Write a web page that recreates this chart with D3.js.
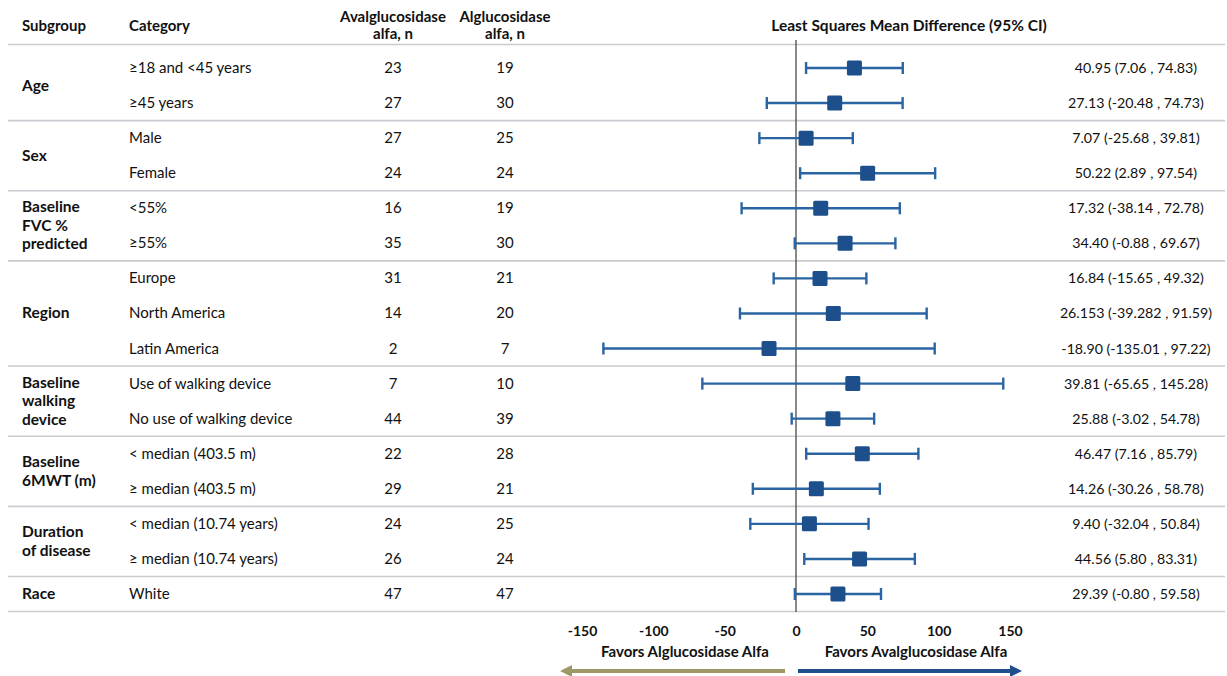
<!DOCTYPE html>
<html>
<head>
<meta charset="utf-8">
<script src="https://cdn.jsdelivr.net/npm/d3@7"></script>
<style>
  html, body { margin: 0; padding: 0; background: #fff; }
  svg { display: block; font-family: Lato, "Open Sans", sans-serif; }
</style>
</head>
<body>
<svg id="chart" width="1227" height="676"></svg>
<script>
// Subgroup analysis: least squares mean difference with 95% CI
const groups = [
  { name: ["Age"], rows: 2 },
  { name: ["Sex"], rows: 2 },
  { name: ["Baseline", "FVC %", "predicted"], rows: 2 },
  { name: ["Region"], rows: 3 },
  { name: ["Baseline", "walking", "device"], rows: 2 },
  { name: ["Baseline", "6MWT (m)"], rows: 2 },
  { name: ["Duration", "of disease"], rows: 2 },
  { name: ["Race"], rows: 1 }
];
const categories = [
  "≥18 and <45 years", "≥45 years",
  "Male", "Female",
  "<55%", "≥55%",
  "Europe", "North America", "Latin America",
  "Use of walking device", "No use of walking device",
  "< median (403.5 m)", "≥ median (403.5 m)",
  "< median (10.74 years)", "≥ median (10.74 years)",
  "White"
];
const nAvalglucosidase = [23, 27, 27, 24, 16, 35, 31, 14, 2, 7, 44, 22, 29, 24, 26, 47];
const nAlglucosidase   = [19, 30, 25, 24, 19, 30, 21, 20, 7, 10, 39, 28, 21, 25, 24, 47];
const estimate = ["40.95", "27.13", "7.07", "50.22", "17.32", "34.40", "16.84", "26.153", "-18.90", "39.81", "25.88", "46.47", "14.26", "9.40", "44.56", "29.39"];
const ciLower  = ["7.06", "-20.48", "-25.68", "2.89", "-38.14", "-0.88", "-15.65", "-39.282", "-135.01", "-65.65", "-3.02", "7.16", "-30.26", "-32.04", "5.80", "-0.80"];
const ciUpper  = ["74.83", "74.73", "39.81", "97.54", "72.78", "69.67", "49.32", "91.59", "97.22", "145.28", "54.78", "85.79", "58.78", "50.84", "83.31", "59.58"];
const xTicks = [-150, -100, -50, 0, 50, 100, 150];

const svg = d3.select("#chart");
const W = 1227;

const x = d3.scaleLinear().domain([-150, 150]).range([582, 1010]);
const y = d3.scaleLinear().domain([0, categories.length - 1]).range([68, 594]);
const rowH = y(1) - y(0);

const markColor = "#1d4f8c";
const barColor = "#2a64a3";
const sepColor = "#c9cbd1";

// header
const hdr = svg.append("g").attr("font-weight", "bold").attr("font-size", 15).attr("fill", "#111");
hdr.append("text").attr("x", 22).attr("y", 31).text("Subgroup");
hdr.append("text").attr("x", 129).attr("y", 31).text("Category");
[["Avalglucosidase", 393], ["Alglucosidase", 505]].forEach(([t, cx]) => {
  hdr.append("text").attr("x", cx).attr("y", 22).attr("text-anchor", "middle").text(t);
  hdr.append("text").attr("x", cx).attr("y", 39).attr("text-anchor", "middle").text("alfa, n");
});
hdr.append("text").attr("x", 909).attr("y", 31).attr("text-anchor", "middle")
  .attr("font-size", 15.5)
  .text("Least Squares Mean Difference  (95% CI)");

// group separators
let start = 0;
const bounds = [y(0) - rowH / 2 - 6];
groups.forEach(g => { start += g.rows; bounds.push(y(start - 1) + rowH / 2); });
svg.append("g").selectAll("line").data(bounds).join("line")
  .attr("x1", 8).attr("x2", W - 2)
  .attr("y1", d => d).attr("y2", d => d)
  .attr("stroke", sepColor).attr("stroke-width", 1.6);

// subgroup names
start = 0;
const sg = svg.append("g").attr("font-weight", "bold").attr("font-size", 15.5).attr("fill", "#111");
groups.forEach(g => {
  const mid = (y(start) + y(start + g.rows - 1)) / 2;
  const lh = 18.5;
  g.name.forEach((line, i) => {
    sg.append("text").attr("x", 22)
      .attr("y", mid + (i - (g.name.length - 1) / 2) * lh + 5)
      .text(line);
  });
  start += g.rows;
});

// table columns
const body = svg.append("g").attr("font-size", 15).attr("fill", "#111");
body.selectAll("text.cat").data(categories).join("text").attr("class", "cat")
  .attr("x", 129).attr("y", (d, i) => y(i) + 5).text(d => d);
body.selectAll("text.na").data(nAvalglucosidase).join("text").attr("class", "na")
  .attr("x", 393).attr("y", (d, i) => y(i) + 5).attr("text-anchor", "middle").text(d => d);
body.selectAll("text.nb").data(nAlglucosidase).join("text").attr("class", "nb")
  .attr("x", 505).attr("y", (d, i) => y(i) + 5).attr("text-anchor", "middle").text(d => d);
body.selectAll("text.ci").data(estimate).join("text").attr("class", "ci")
  .attr("x", 1136).attr("y", (d, i) => y(i) + 5).attr("text-anchor", "middle")
  .attr("font-size", 14.2)
  .text((d, i) => `${d} (${ciLower[i]} , ${ciUpper[i]})`);

// zero reference line
svg.append("line")
  .attr("x1", x(0)).attr("x2", x(0)).attr("y1", 40).attr("y2", 612)
  .attr("stroke", "#4a4a4a").attr("stroke-width", 1.3);

// confidence intervals
const ci = svg.append("g").attr("stroke", barColor).attr("stroke-width", 2.4);
estimate.forEach((e, i) => {
  const lo = +ciLower[i], hi = +ciUpper[i], cy = y(i);
  ci.append("line").attr("x1", x(lo)).attr("x2", x(hi)).attr("y1", cy).attr("y2", cy);
  ci.append("line").attr("x1", x(lo)).attr("x2", x(lo)).attr("y1", cy - 6).attr("y2", cy + 6);
  ci.append("line").attr("x1", x(hi)).attr("x2", x(hi)).attr("y1", cy - 6).attr("y2", cy + 6);
});
svg.append("g").selectAll("rect").data(estimate).join("rect")
  .attr("x", d => x(+d) - 7.5).attr("y", (d, i) => y(i) - 7.5)
  .attr("width", 15).attr("height", 15).attr("rx", 1.5)
  .attr("fill", markColor);

// x axis
const axis = svg.append("g").attr("transform", "translate(0,623)")
  .call(d3.axisBottom(x).tickValues(xTicks).tickFormat(d => String(d)).tickSize(0).tickPadding(0));
axis.select(".domain").remove();
axis.selectAll("text").attr("font-family", "Lato, sans-serif").attr("font-weight", "bold")
  .attr("font-size", 14).attr("fill", "#111").attr("dy", "0.9em");

// direction labels and arrows
const fav = svg.append("g").attr("font-weight", "bold").attr("font-size", 15).attr("fill", "#111")
  .attr("text-anchor", "middle");
fav.append("text").attr("x", 685).attr("y", 657).text("Favors Alglucosidase Alfa");
fav.append("text").attr("x", 916).attr("y", 657).text("Favors Avalglucosidase Alfa");

const defs = svg.append("defs");
[["arrL", "#9c9966"], ["arrR", "#1f4e8c"]].forEach(([id, c]) => {
  defs.append("marker").attr("id", id).attr("viewBox", "0 0 10 10")
    .attr("refX", 5).attr("refY", 5).attr("markerWidth", 3).attr("markerHeight", 3)
    .attr("orient", "auto-start-reverse").attr("markerUnits", "strokeWidth")
    .append("path").attr("d", "M0,0 L10,5 L0,10 z").attr("fill", c);
});
svg.append("line").attr("x1", 785).attr("x2", 566).attr("y1", 671).attr("y2", 671)
  .attr("stroke", "#9c9966").attr("stroke-width", 4).attr("marker-end", "url(#arrL)");
svg.append("line").attr("x1", 798).attr("x2", 1016).attr("y1", 671).attr("y2", 671)
  .attr("stroke", "#1f4e8c").attr("stroke-width", 4).attr("marker-end", "url(#arrR)");
</script>
</body>
</html>
